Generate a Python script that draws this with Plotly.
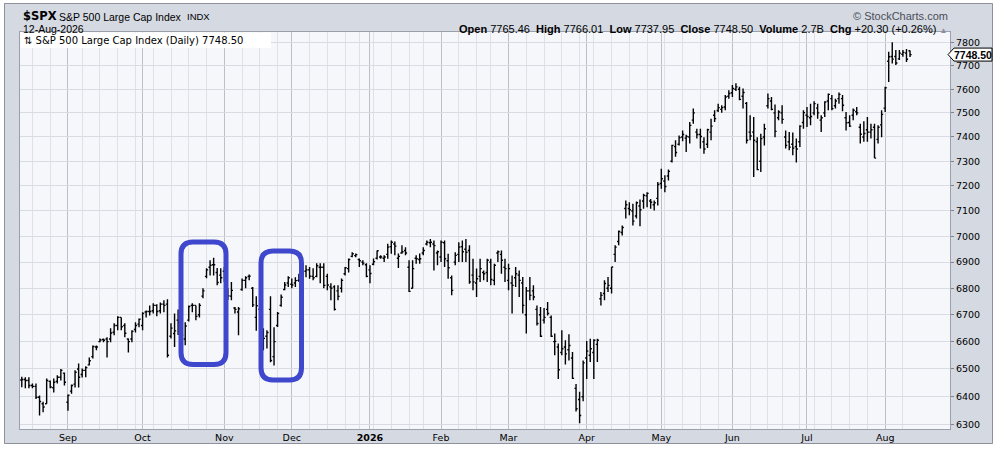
import math
import pandas as pd
import plotly.graph_objects as go

#----------- Data -------------------------

holidays = ["2025-09-01", "2025-11-27", "2025-12-25", "2026-01-01", "2026-01-19",
            "2026-02-16", "2026-04-03", "2026-05-25", "2026-06-19", "2026-07-03"]

days = pd.bdate_range("2025-08-13", "2026-08-12")
days = days[~days.isin(pd.to_datetime(holidays))]
dates = [d.strftime("%Y-%m-%d") for d in days]

opens = [
    6460, 6462, 6458, 6440, 6437, 6398, 6375, 6375, 6455, 6432,
    6455, 6470, 6485, 6380, 6420, 6445, 6500, 6480, 6495, 6515,
    6545, 6580, 6600, 6608, 6610, 6610, 6635, 6660, 6690, 6660,
    6610, 6610, 6645, 6665, 6660, 6710, 6712, 6715, 6735, 6715,
    6740, 6740, 6620, 6630, 6680, 6690, 6610, 6680, 6735, 6735,
    6700, 6770, 6845, 6880, 6890, 6860, 6850, 6865, 6790, 6770,
    6725, 6710, 6795, 6830, 6845, 6800, 6690, 6720, 6640, 6620,
    6720, 6545, 6660, 6735, 6795, 6820, 6815, 6820, 6830, 6850,
    6865, 6870, 6845, 6845, 6880, 6880, 6845, 6805, 6805, 6790,
    6800, 6855, 6875, 6922, 6925, 6910, 6900, 6890, 6870, 6892,
    6915, 6920, 6915, 6930, 6960, 6970, 6915, 6935, 6945, 6880,
    6800, 6915, 6910, 6935, 6970, 6975, 6970, 6935, 6920, 6975,
    6905, 6840, 6900, 6930, 6960, 6950, 6945, 6850, 6820, 6845,
    6860, 6860, 6900, 6830, 6935, 6930, 6880, 6830, 6820, 6840,
    6850, 6820, 6700, 6790, 6790, 6720, 6700, 6680, 6720, 6690,
    6600, 6580, 6560, 6580, 6570, 6540, 6430, 6390, 6400, 6540,
    6550, 6560, 6590, 6760, 6780, 6800, 6800, 6930, 6980, 7015,
    7110, 7110, 7100, 7080, 7120, 7140, 7160, 7140, 7125, 7150,
    7210, 7220, 7240, 7300, 7360, 7370, 7400, 7395, 7400, 7470,
    7420, 7410, 7380, 7370, 7420, 7490, 7510, 7515, 7525, 7570,
    7585, 7600, 7600, 7570, 7540, 7420, 7420, 7380, 7300, 7400,
    7530, 7550, 7500, 7480, 7500, 7400, 7380, 7370, 7360, 7380,
    7460, 7490, 7480, 7500, 7520, 7470, 7500, 7550, 7560, 7530,
    7560, 7560, 7480, 7460, 7490, 7505, 7440, 7400, 7430, 7420,
    7440, 7390, 7450, 7520, 7720, 7740, 7740, 7730, 7750, 7755,
    7765.46]

highs = [
    6472, 6470, 6470, 6447, 6447, 6404, 6382, 6465, 6458, 6465,
    6477, 6500, 6487, 6408, 6444, 6495, 6520, 6502, 6510, 6542,
    6586, 6586, 6612, 6612, 6616, 6650, 6668, 6694, 6690, 6668,
    6612, 6642, 6672, 6686, 6709, 6716, 6735, 6743, 6739, 6746,
    6754, 6758, 6668, 6705, 6720, 6705, 6672, 6735, 6743, 6735,
    6743, 6800, 6876, 6907, 6917, 6877, 6876, 6881, 6800, 6824,
    6729, 6729, 6837, 6846, 6852, 6805, 6770, 6735, 6650, 6642,
    6770, 6653, 6710, 6776, 6824, 6846, 6837, 6842, 6855, 6866,
    6888, 6881, 6876, 6896, 6896, 6896, 6855, 6819, 6811, 6811,
    6837, 6881, 6914, 6938, 6933, 6914, 6907, 6896, 6888, 6914,
    6945, 6926, 6926, 6971, 6984, 6980, 6933, 6965, 6958, 6907,
    6907, 6926, 6933, 6958, 6984, 6990, 6984, 6945, 6984, 6984,
    6932, 6849, 6938, 6977, 6984, 6990, 6965, 6913, 6875, 6913,
    6868, 6913, 6913, 6894, 6945, 6945, 6913, 6894, 6849, 6881,
    6868, 6843, 6805, 6843, 6811, 6735, 6729, 6725, 6748, 6697,
    6630, 6593, 6642, 6605, 6627, 6562, 6446, 6418, 6531, 6602,
    6611, 6609, 6611, 6786, 6830, 6843, 6881, 6965, 7023, 7043,
    7142, 7135, 7129, 7138, 7146, 7169, 7175, 7148, 7142, 7216,
    7270, 7243, 7267, 7368, 7386, 7406, 7427, 7409, 7462, 7518,
    7434, 7434, 7399, 7434, 7476, 7511, 7539, 7532, 7575, 7596,
    7618, 7625, 7610, 7603, 7546, 7490, 7483, 7399, 7413, 7455,
    7582, 7567, 7535, 7511, 7532, 7427, 7420, 7418, 7393, 7448,
    7511, 7525, 7539, 7549, 7539, 7490, 7549, 7582, 7575, 7560,
    7586, 7575, 7504, 7490, 7518, 7525, 7455, 7465, 7483, 7455,
    7455, 7448, 7511, 7610, 7761, 7802, 7768, 7768, 7768, 7773,
    7766.01]

lows = [
    6434, 6430, 6430, 6430, 6392, 6333, 6345, 6375, 6430, 6415,
    6447, 6458, 6440, 6350, 6411, 6433, 6433, 6469, 6470, 6513,
    6538, 6568, 6598, 6598, 6542, 6598, 6624, 6642, 6642, 6616,
    6560, 6598, 6634, 6653, 6642, 6690, 6697, 6705, 6694, 6705,
    6709, 6542, 6612, 6580, 6625, 6587, 6587, 6675, 6709, 6679,
    6690, 6762, 6838, 6849, 6849, 6811, 6819, 6824, 6755, 6754,
    6705, 6624, 6790, 6800, 6830, 6729, 6640, 6650, 6568, 6575,
    6524, 6513, 6654, 6730, 6792, 6805, 6800, 6805, 6824, 6828,
    6842, 6836, 6830, 6842, 6819, 6800, 6792, 6754, 6716, 6754,
    6784, 6849, 6860, 6919, 6919, 6881, 6888, 6842, 6819, 6888,
    6910, 6913, 6900, 6913, 6932, 6926, 6877, 6932, 6926, 6786,
    6799, 6894, 6894, 6926, 6964, 6958, 6868, 6888, 6900, 6881,
    6836, 6773, 6888, 6900, 6900, 6900, 6817, 6792, 6767, 6824,
    6830, 6824, 6811, 6811, 6900, 6855, 6824, 6792, 6705, 6805,
    6767, 6705, 6630, 6754, 6754, 6660, 6617, 6667, 6697, 6617,
    6550, 6464, 6550, 6516, 6531, 6464, 6347, 6306, 6384, 6464,
    6525, 6464, 6525, 6735, 6754, 6786, 6780, 6900, 6965, 7003,
    7070, 7083, 7043, 7070, 7040, 7109, 7115, 7109, 7102, 7122,
    7189, 7175, 7222, 7295, 7318, 7365, 7382, 7338, 7373, 7455,
    7393, 7352, 7331, 7354, 7386, 7462, 7504, 7501, 7511, 7560,
    7567, 7592, 7553, 7518, 7373, 7386, 7236, 7263, 7256, 7365,
    7518, 7511, 7399, 7469, 7455, 7352, 7345, 7325, 7295, 7358,
    7434, 7441, 7448, 7490, 7476, 7420, 7483, 7511, 7511, 7518,
    7539, 7507, 7427, 7441, 7469, 7490, 7373, 7380, 7380, 7393,
    7313, 7373, 7399, 7504, 7631, 7710, 7704, 7725, 7739, 7717,
    7737.95]

closes = [
    6462, 6458, 6440, 6437, 6398, 6383, 6363, 6458, 6435, 6452,
    6470, 6495, 6452, 6405, 6440, 6488, 6470, 6495, 6505, 6530,
    6582, 6580, 6606, 6605, 6600, 6632, 6660, 6690, 6655, 6631,
    6600, 6638, 6660, 6683, 6705, 6712, 6712, 6735, 6712, 6740,
    6735, 6550, 6650, 6640, 6671, 6624, 6658, 6731, 6735, 6694,
    6735, 6790, 6870, 6888, 6890, 6822, 6840, 6852, 6771, 6792,
    6720, 6722, 6830, 6840, 6846, 6737, 6734, 6672, 6612, 6634,
    6531, 6600, 6705, 6766, 6812, 6840, 6812, 6829, 6850, 6857,
    6870, 6846, 6840, 6886, 6880, 6811, 6812, 6800, 6720, 6769,
    6830, 6878, 6910, 6932, 6929, 6905, 6896, 6845, 6856, 6902,
    6944, 6920, 6920, 6958, 6977, 6962, 6922, 6940, 6935, 6788,
    6875, 6913, 6913, 6945, 6977, 6977, 6964, 6940, 6977, 6913,
    6878, 6792, 6926, 6958, 6940, 6938, 6824, 6824, 6836, 6875,
    6855, 6907, 6833, 6888, 6940, 6907, 6875, 6875, 6811, 6855,
    6830, 6735, 6790, 6773, 6767, 6667, 6620, 6690, 6705, 6620,
    6601, 6497, 6574, 6555, 6586, 6466, 6357, 6333, 6522, 6565,
    6574, 6605, 6605, 6773, 6818, 6811, 6881, 6958, 7019, 7035,
    7125, 7105, 7060, 7133, 7105, 7162, 7170, 7135, 7133, 7206,
    7229, 7198, 7259, 7365, 7336, 7397, 7410, 7402, 7448, 7500,
    7410, 7402, 7350, 7430, 7445, 7476, 7522, 7522, 7567, 7582,
    7603, 7610, 7557, 7586, 7386, 7404, 7386, 7266, 7393, 7434,
    7560, 7515, 7423, 7504, 7473, 7365, 7358, 7354, 7350, 7445,
    7501, 7485, 7485, 7539, 7500, 7480, 7546, 7578, 7518, 7550,
    7578, 7532, 7459, 7445, 7511, 7500, 7411, 7414, 7420, 7430,
    7313, 7440, 7494, 7606, 7739, 7729, 7712, 7755, 7758, 7728.2,
    7748.50]

month_ticks = ["2025-09-02", "2025-10-01", "2025-11-03", "2025-12-01", "2026-01-02", "2026-02-02",
               "2026-03-02", "2026-04-01", "2026-05-01", "2026-06-01", "2026-07-01", "2026-08-03"]
month_labels = ["Sep", "Oct", "Nov", "Dec", "<b>2026</b>", "Feb", "Mar", "Apr", "May", "Jun", "Jul", "Aug"]
price_ticks = [6300, 6400, 6500, 6600, 6700, 6800, 6900, 7000, 7100, 7200, 7300, 7400, 7500, 7600, 7700, 7800]

header_fields = [("Open", "7765.46"), ("High", "7766.01"), ("Low", "7737.95"), ("Close", "7748.50"),
                 ("Volume", "2.7B"), ("Chg", "+20.30 (+0.26%)")]

# first trading day of every week -> light grid
week_starts = [d.strftime("%Y-%m-%d") for p, d in zip(days[:-1], days[1:]) if d.weekday() < p.weekday()]

#----------- Geometry helpers -------------------------

W, H = 997, 454
ML, MR, MT, MB = 20, 47, 32, 25
PW, PH = W - ML - MR, H - MT - MB
Y_LO, Y_HI = 3.79834, 3.8947


def px(x):
    return (x - ML) / PW


def py(y):
    return (H - MB - y) / PH


def rounded_box(x0, y0, x1, y1, r):
    a, b, c, d = px(x0), px(x1), py(y0), py(y1)
    rx, ry = r / PW, r / PH
    return (f"M{a+rx},{c} L{b-rx},{c} Q{b},{c} {b},{c-ry} L{b},{d+ry} Q{b},{d} {b-rx},{d} "
            f"L{a+rx},{d} Q{a},{d} {a},{d+ry} L{a},{c-ry} Q{a},{c} {a+rx},{c} Z")


#----------- Figure -------------------------

fig = go.Figure()
fig.add_trace(go.Ohlc(x=dates, open=opens, high=highs, low=lows, close=closes,
                      increasing=dict(line=dict(color="black", width=1.4)),
                      decreasing=dict(line=dict(color="black", width=1.4)),
                      tickwidth=0.45, hoverinfo="skip"))

panel = "#d5d9e2"
shapes = [
    # white page around the grey panel
    dict(type="rect", xref="paper", yref="paper", x0=px(0), x1=px(4), y0=py(H), y1=py(0),
         fillcolor="white", line_width=0, layer="below"),
    dict(type="rect", xref="paper", yref="paper", x0=px(993), x1=px(W), y0=py(H), y1=py(0),
         fillcolor="white", line_width=0, layer="below"),
    dict(type="rect", xref="paper", yref="paper", x0=px(0), x1=px(W), y0=py(3), y1=py(0),
         fillcolor="white", line_width=0, layer="below"),
    dict(type="rect", xref="paper", yref="paper", x0=px(0), x1=px(W), y0=py(H), y1=py(444),
         fillcolor="white", line_width=0, layer="below"),
    dict(type="rect", xref="paper", yref="paper", x0=px(4.5), x1=px(992.5), y0=py(443.5), y1=py(3.5),
         fillcolor="rgba(0,0,0,0)", line=dict(color="#8d919b", width=1), layer="below"),
    # legend label box inside the plot
    dict(type="rect", xref="paper", yref="paper", x0=px(20.5), x1=px(271), y0=py(48), y1=py(32.5),
         fillcolor="white", line_width=0, layer="above"),
    # hand drawn highlight boxes
    dict(type="path", xref="paper", yref="paper", path=rounded_box(181, 242, 226, 364.5, 12),
         line=dict(color="#3f48cc", width=5), layer="above"),
    dict(type="path", xref="paper", yref="paper", path=rounded_box(261, 251, 301.5, 380, 12),
         line=dict(color="#3f48cc", width=5), layer="above"),
]

# last price flag on the right axis
last_y = H - MB - (math.log10(closes[-1]) - Y_LO) / (Y_HI - Y_LO) * PH
flag = (f"M{px(948)},{py(last_y)} L{px(954)},{py(last_y - 6.5)} L{px(992)},{py(last_y - 6.5)} "
        f"L{px(992)},{py(last_y + 6.5)} L{px(954)},{py(last_y + 6.5)} Z")
shapes.append(dict(type="path", xref="paper", yref="paper", path=flag,
                   fillcolor="white", line=dict(color="black", width=1), layer="above"))

header_txt = "&nbsp;&nbsp;".join(f"<b>{k}</b> {v}" for k, v in header_fields)
header_txt += " <span style='color:#8a8f99;font-size:8px'>▲</span>"

sans = "Liberation Sans, Arial, sans-serif"
annotations = [
    dict(x=px(21), y=py(16), text="<b>$SPX</b>", xanchor="left", yanchor="middle",
         font=dict(family="DejaVu Sans", size=11.5, color="black")),
    dict(x=px(57), y=py(16.5), text="S&P 500 Large Cap Index", xanchor="left", yanchor="middle",
         font=dict(family=sans, size=10.5, color="black")),
    dict(x=px(185), y=py(16.5), text="INDX", xanchor="left", yanchor="middle",
         font=dict(family=sans, size=9.5, color="black")),
    dict(x=px(21), y=py(29), text="12-Aug-2026", xanchor="left", yanchor="middle",
         font=dict(family=sans, size=10.5, color="black")),
    dict(x=px(950), y=py(16), text="© StockCharts.com", xanchor="right", yanchor="middle",
         font=dict(family=sans, size=11, color="#4a4e57")),
    dict(x=px(949), y=py(29), text=header_txt, xanchor="right", yanchor="middle",
         font=dict(family=sans, size=11, color="black")),
    dict(x=px(22), y=py(40.5), text="⇅ S&P 500 Large Cap Index (Daily) 7748.50", xanchor="left",
         yanchor="middle", font=dict(family="DejaVu Sans", size=10, color="black")),
    dict(x=px(973), y=py(last_y), text=f"<b>{closes[-1]:.2f}</b>", xanchor="center", yanchor="middle",
         font=dict(family=sans, size=10.5, color="black")),
]
for a in annotations:
    a.update(xref="paper", yref="paper", showarrow=False)

fig.update_layout(
    width=W, height=H,
    margin=dict(l=ML, r=MR, t=MT, b=MB),
    paper_bgcolor=panel,
    plot_bgcolor="#f6f7fb",
    showlegend=False,
    font=dict(family="DejaVu Sans", size=9, color="black"),
    shapes=shapes,
    annotations=annotations,
)
fig.update_xaxes(
    type="date",
    range=["2025-08-12 12:00", "2026-08-27 06:00"],
    rangebreaks=[dict(bounds=["sat", "mon"]), dict(values=holidays)],
    rangeslider_visible=False,
    tickmode="array", tickvals=month_ticks, ticktext=month_labels,
    showgrid=True, gridcolor="#bcbfc8", gridwidth=1,
    minor=dict(tickvals=week_starts, showgrid=True, gridcolor="#dfe1e8", gridwidth=1),
    ticks="", showline=True, linecolor="#9aa0ac", mirror=True,
    tickfont=dict(family="DejaVu Sans", size=9.5),
)
fig.update_yaxes(
    type="log", range=[Y_LO, Y_HI], side="right",
    tickmode="array", tickvals=price_ticks, ticktext=[str(v) for v in price_ticks],
    showgrid=True, gridcolor="#d9dbe3", gridwidth=1,
    ticks="outside", ticklen=3, tickcolor="#7d828c",
    showline=True, linecolor="#9aa0ac", mirror=True,
    tickfont=dict(family="DejaVu Sans", size=9.5),
)

# the page keeps the browser's default body margin otherwise
fig.write_html("out.html", config={"displayModeBar": False},
               post_script="document.body.style.margin = '0px';")
